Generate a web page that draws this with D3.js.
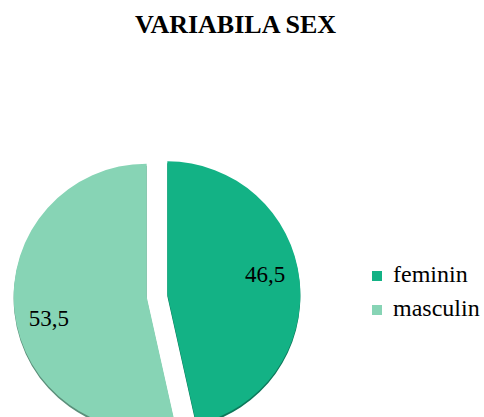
<!DOCTYPE html>
<html>
<head>
<meta charset="utf-8">
<script src="https://cdn.jsdelivr.net/npm/d3@7"></script>
<style>
  html, body { margin: 0; padding: 0; background: #fff; }
  svg { display: block; overflow: hidden; }
</style>
</head>
<body>
<main></main>
<script>
//Pie chart with D3

const categories = ["feminin", "masculin"];
const values = [46.5, 53.5];
const valueLabels = ["46,5", "53,5"];
const colorList = ["#13b285", "#87d4b5"];

document.addEventListener('DOMContentLoaded', function(){

    //Parameters
    const w = 484;
    const h = 417;
    const cx = 157;
    const cy = 295.5;
    const r = 133;
    const explode = 10.4;
    const labelR = 100;
    const labelShift = -0.1;

    const svg = d3.select("main")
        .append("svg")
        .attr("width", w)
        .attr("height", h);

    //Title
    svg.append("text")
       .attr("x", 235.5)
       .attr("y", 33)
       .attr("text-anchor", "middle")
       .attr("font-family", "'Liberation Serif', serif")
       .attr("font-weight", "bold")
       .attr("font-size", 26)
       .attr("fill", "#000")
       .text("VARIABILA SEX");

    const data = categories.map((c, i) => ({name: c, value: values[i], label: valueLabels[i]}));

    const pie = d3.pie().sort(null).value(d => d.value);
    const arc = d3.arc().innerRadius(0).outerRadius(r);
    const color = d3.scaleOrdinal(categories, colorList);

    const arcs = pie(data);

    const midAngle = d => (d.startAngle + d.endAngle) / 2;
    const offset = d => [Math.sin(midAngle(d)) * explode, -Math.cos(midAngle(d)) * explode];

    const slices = svg.append("g")
        .attr("transform", "translate(" + cx + "," + cy + ")")
        .selectAll("g")
        .data(arcs)
        .enter()
        .append("g")
        .attr("transform", d => "translate(" + offset(d) + ")");

    //thin dark edge under each slice
    slices.append("path")
        .attr("d", arc)
        .attr("transform", "translate(0,2)")
        .attr("fill", d => d3.color(color(d.data.name)).darker(1.1));

    slices.append("path")
        .attr("d", arc)
        .attr("fill", d => color(d.data.name));

    //Labels
    slices.append("text")
        .attr("x", d => Math.sin(midAngle(d) + labelShift) * labelR)
        .attr("y", d => -Math.cos(midAngle(d) + labelShift) * labelR)
        .attr("dy", "0.35em")
        .attr("text-anchor", "middle")
        .attr("font-family", "'Liberation Serif', serif")
        .attr("font-size", 23)
        .attr("fill", "#000")
        .text(d => d.data.label);

    //Legend
    const legend = svg.append("g")
        .attr("transform", "translate(372,271)");

    const item = legend.selectAll("g")
        .data(categories)
        .enter()
        .append("g")
        .attr("transform", (d, i) => "translate(0," + i * 34 + ")");

    item.append("rect")
        .attr("width", 10)
        .attr("height", 10)
        .attr("fill", d => color(d));

    item.append("text")
        .attr("x", 21)
        .attr("y", 11)
        .attr("font-family", "'Liberation Serif', serif")
        .attr("font-size", 24)
        .attr("fill", "#000")
        .text(d => d);
});
</script>
</body>
</html>
